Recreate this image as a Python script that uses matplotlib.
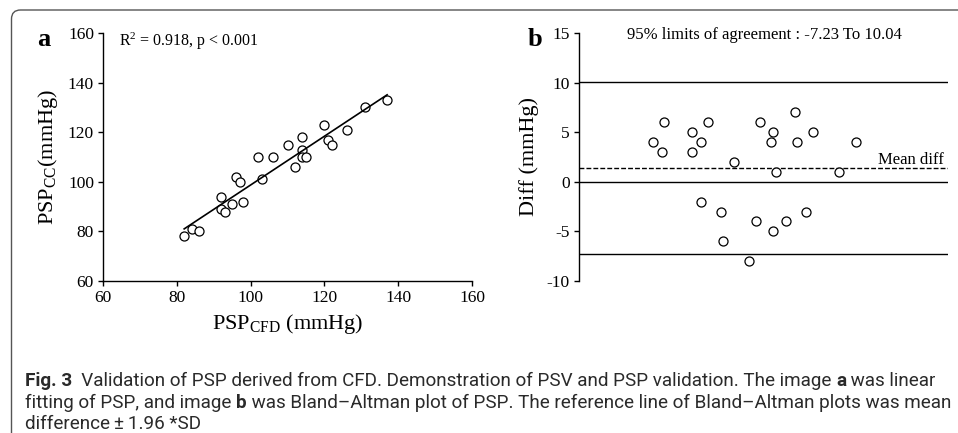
import numpy as np
import matplotlib
matplotlib.use('Agg')
import matplotlib.pyplot as plt
from matplotlib.patches import FancyBboxPatch

plt.rcParams['font.family'] = ['Liberation Serif', 'DejaVu Serif']
plt.rcParams['mathtext.fontset'] = 'custom'
plt.rcParams['mathtext.rm'] = 'Liberation Serif'
plt.rcParams['mathtext.it'] = 'Liberation Serif:italic'
plt.rcParams['mathtext.bf'] = 'Liberation Serif:bold'
plt.rcParams['axes.unicode_minus'] = False

# PSP values (mmHg)
psp_cfd = [82, 84, 86, 92, 92, 93, 95, 96, 97, 98, 102, 103, 106, 110, 112,
           114, 114, 114, 115, 120, 121, 122, 126, 131, 137]
psp_cc = [78, 81, 80, 94, 89, 88, 91, 102, 100, 92, 110, 101, 110, 115, 106,
          118, 113, 110, 110, 123, 117, 115, 121, 130, 133]

ticks_a = [60, 80, 100, 120, 140, 160]
ticks_b = [-10, -5, 0, 5, 10, 15]

W, H = 958, 433
fig = plt.figure(figsize=(W / 100, H / 100), dpi=100)


def fx(x):
    return x / W


def fy(y):
    return 1 - y / H


# outer frame (rounded top-left corner)
frame = FancyBboxPatch((0.115, -0.5), 10, 4.23 + 0.5,
                       boxstyle='round,pad=0,rounding_size=0.09',
                       transform=fig.dpi_scale_trans, fill=False,
                       edgecolor='#555555', linewidth=1.0)
fig.patches.append(frame)

cfd = np.array(psp_cfd, dtype=float)
cc = np.array(psp_cc, dtype=float)

# ---- panel a : linear fitting
axa = fig.add_axes([fx(103), fy(281), fx(472) - fx(103), fy(33) - fy(281)])
axa.plot(cfd, cc, linestyle='none', marker='o', markersize=6.5,
         markerfacecolor='white', markeredgecolor='black', markeredgewidth=0.9)
k, b = np.polyfit(cfd, cc, 1)
xl = np.array([cfd.min(), cfd.max()])
axa.plot(xl, k * xl + b, color='black', linewidth=1.2)
axa.set_xlim(60, 160)
axa.set_ylim(60, 160)
axa.set_xticks(ticks_a)
axa.set_yticks(ticks_a)
axa.spines['top'].set_visible(False)
axa.spines['right'].set_visible(False)
for s in ['left', 'bottom']:
    axa.spines[s].set_linewidth(1.0)
axa.tick_params(direction='out', length=3.5, width=1.0, labelsize=12.5, pad=3)
axa.set_xlabel('PSP$_{\\rm CFD}$ (mmHg)', fontsize=16, labelpad=4)
axa.set_ylabel('PSP$_{\\rm CC}$(mmHg)', fontsize=16, labelpad=6)
axa.text(fx(119), fy(46), 'R$^2$ = 0.918, p < 0.001', transform=fig.transFigure,
         fontsize=11.5, ha='left', va='baseline')
fig.text(fx(37), fy(46), 'a', fontsize=19, fontweight='bold', ha='left', va='baseline')

# ---- panel b : Bland-Altman
mean_pair = (cfd + cc) / 2
diff = cfd - cc
md = diff.mean()
sd = diff.std(ddof=1)
upper = md + 1.96 * sd
lower = md - 1.96 * sd

axb = fig.add_axes([fx(579), fy(281), fx(948) - fx(579), fy(33) - fy(281)])
for v in [upper, 0, lower]:
    axb.axhline(v, color='black', linewidth=1.0)
axb.axhline(md, color='black', linewidth=1.0, linestyle=(0, (3.5, 1.5)))
axb.plot(mean_pair, diff, linestyle='none', marker='o', markersize=6.5,
         markerfacecolor='white', markeredgecolor='black', markeredgewidth=0.9)
axb.set_xlim(60, 160)
axb.set_ylim(-10, 15)
axb.set_yticks(ticks_b)
axb.set_xticks([])
for s in ['top', 'right', 'bottom']:
    axb.spines[s].set_visible(False)
axb.spines['left'].set_linewidth(1.0)
axb.tick_params(axis='y', direction='out', length=3.5, width=1.0, labelsize=12.5, pad=3)
axb.set_ylabel('Diff (mmHg)', fontsize=16, labelpad=6)
fig.text(fx(764), fy(39), '95% limits of agreement : -7.23 To 10.04',
         fontsize=12, ha='center', va='baseline')
fig.text(fx(944), fy(164), 'Mean diff', fontsize=12, ha='right', va='baseline')
fig.text(fx(528), fy(46), 'b', fontsize=19, fontweight='bold', ha='left', va='baseline')

# ---- caption (narrow sans; size fitted so line 1 spans the same width)
cap_font = ['Roboto', 'DejaVu Sans']
caption = [
    (386, [('Fig. 3', 'bold'), ('  Validation of PSP derived from CFD. Demonstration of PSV and PSP validation. The image ', 'normal'),
           ('a', 'bold'), (' was linear', 'normal')]),
    (408, [('fitting of PSP, and image ', 'normal'), ('b', 'bold'),
           (' was Bland\u2013Altman plot of PSP. The reference line of Bland\u2013Altman plots was mean', 'normal')]),
    (429, [('difference\u2009\u00b1\u20091.96 *SD', 'normal')]),
]
renderer = fig.canvas.get_renderer()


def line_width(parts, size):
    total = 0
    for txt, wt in parts:
        t = fig.text(0, 0, txt, fontsize=size, fontweight=wt, family=cap_font)
        total += t.get_window_extent(renderer).width
        t.remove()
    return total


cap_size = 13 * 912 / line_width(caption[0][1], 13)

for yb, parts in caption:
    x = 25
    for txt, wt in parts:
        t = fig.text(fx(x), fy(yb), txt, fontsize=cap_size, fontweight=wt,
                     family=cap_font, color='#2a2a2a', ha='left', va='baseline')
        x += t.get_window_extent(renderer).width

fig.savefig('out.png', dpi=100)
